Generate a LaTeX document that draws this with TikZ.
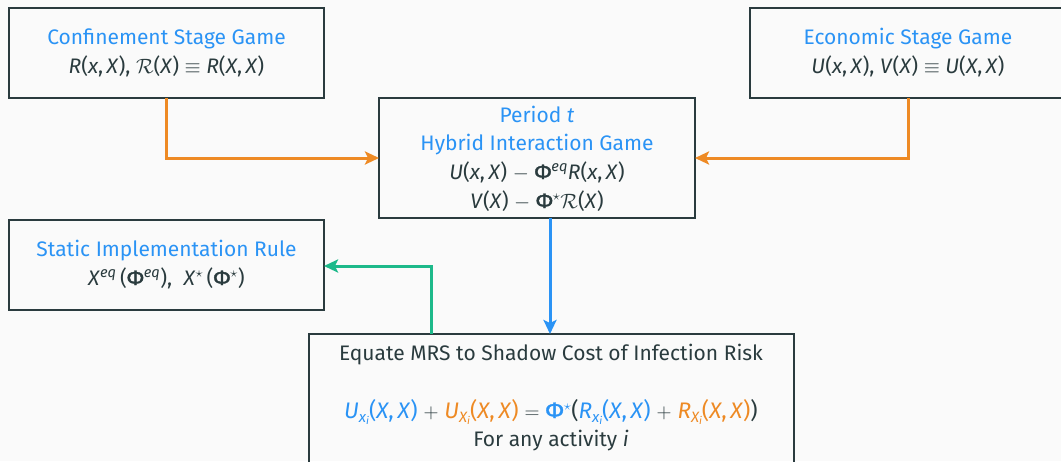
\documentclass[tikz,border=0pt]{standalone}
\usepackage{amsmath}
\usepackage{fontspec}
\setmainfont{Fira Sans}
\newfontfamily\phifont{Fira Sans}[UprightFeatures={FakeBold=1.6}]
\usetikzlibrary{arrows.meta}
\definecolor{fgblue}{HTML}{2A93F5}
\definecolor{fgorange}{HTML}{EE8A24}
\definecolor{fggreen}{HTML}{1DB98A}
\definecolor{fgdark}{HTML}{2A3B3E}
\definecolor{fgback}{HTML}{FAFAFA}
\newcommand\vi[1]{\textit{#1}}
\newcommand\Phisym{{\phifont Φ}}
\newcommand\bop[1]{\ $#1$\ }
% derivative subscript such as x_i, set a little larger than \textsubscript
\newcommand\dsub[1]{\raisebox{-4pt}{\fontsize{15}{15}\selectfont\itshape #1\raisebox{-2.5pt}{\fontsize{10.5}{10.5}\selectfont i}}}
\tikzset{
  panel/.style={draw=fgdark, line width=2.2pt, fill=none},
  ttl/.style={text=fgblue, font=\fontsize{21}{29}\selectfont, anchor=base},
  txt/.style={text=fgdark, font=\fontsize{21}{29}\selectfont, anchor=base},
  link/.style={line width=3pt, -{Stealth[length=14pt,width=13pt,inset=3pt]}},
}
\begin{document}
\begin{tikzpicture}[x=1pt,y=-1pt]
\useasboundingbox (0,0) rectangle (1061,461);
\fill[fgback] (0,0) rectangle (1061,461);

% boxes
\draw[panel] (9,8) rectangle (324,98);
\coordinate (conf) at (166.5,98);
\draw[panel] (750,8) rectangle (1075,98);
\coordinate (econ) at (908,98);
\draw[panel] (379,98) rectangle (695,218);
\coordinate (hybL) at (379,158);
\coordinate (hybR) at (695,158);
\coordinate (hybB) at (550,218);
\draw[panel] (9,220) rectangle (324,310);
\coordinate (statR) at (324,266);
\draw[panel] (309,334) rectangle (794,475);
\coordinate (eqT) at (550,334);
\coordinate (eqG) at (431,334);

% texts
\node[ttl] (t1) at (166.5,44) {Confinement Stage Game};
\node[txt] (f1) at (166.5,73) {\vi{R}(\vi{x},\,\vi{X}), $\mathcal{R}$(\vi{X})\bop{\equiv}\vi{R}(\vi{X},\,\vi{X})};

\node[ttl] (t2) at (908,44) {Economic Stage Game};
\node[txt] (f2) at (908,73) {\vi{U}(\vi{x},\,\vi{X}), \vi{V}(\vi{X})\bop{\equiv}\vi{U}(\vi{X},\,\vi{X})};

\node[ttl] (t3) at (537,122) {Period \vi{t}};
\node[ttl] (t4) at (537,150) {Hybrid Interaction Game};
\node[txt] (f3) at (537,179) {\vi{U}(\vi{x},\,\vi{X})\bop{-}\Phisym\textsuperscript{\vi{eq}}\vi{R}(\vi{x},\,\vi{X})};
\node[txt] (f4) at (537,208) {\vi{V}(\vi{X})\bop{-}\Phisym$^{\star}\mathcal{R}$(\vi{X})};

\node[ttl] (t5) at (166.5,256) {Static Implementation Rule};
\node[txt] (f5) at (166.5,285) {\vi{X}\textsuperscript{\vi{eq}}\,(\Phisym\textsuperscript{\vi{eq}}),\; \vi{X}$^{\star}$\,(\Phisym$^{\star}$)};

\node[txt] (t6) at (551,360) {Equate MRS to Shadow Cost of Infection Risk};
\node[txt, font=\fontsize{22.5}{29}\selectfont] (f6) at (551,418) {\color{fgblue}\vi{U}\dsub{x}(\vi{X},\,\vi{X})\color{fgdark}\bop{+}\color{fgorange}\vi{U}\dsub{X}(\vi{X},\,\vi{X})\color{fgdark}\bop{=}\color{fgblue}\Phisym$^{\star}$\color{fgdark}(\color{fgblue}\vi{R}\dsub{x}(\vi{X},\,\vi{X})\color{fgdark}\bop{+}\color{fgorange}\vi{R}\dsub{X}(\vi{X},\,\vi{X})\color{fgdark})};
\node[txt] (f7) at (551,446) {For any activity \vi{i}};

% connectors
\draw[link, fgorange] (conf) |- (hybL);
\draw[link, fgorange] (econ) |- (hybR);
\draw[link, fgblue] (hybB) -- (eqT);
\draw[link, fggreen] (eqG) |- (statR);
\end{tikzpicture}
\end{document}
